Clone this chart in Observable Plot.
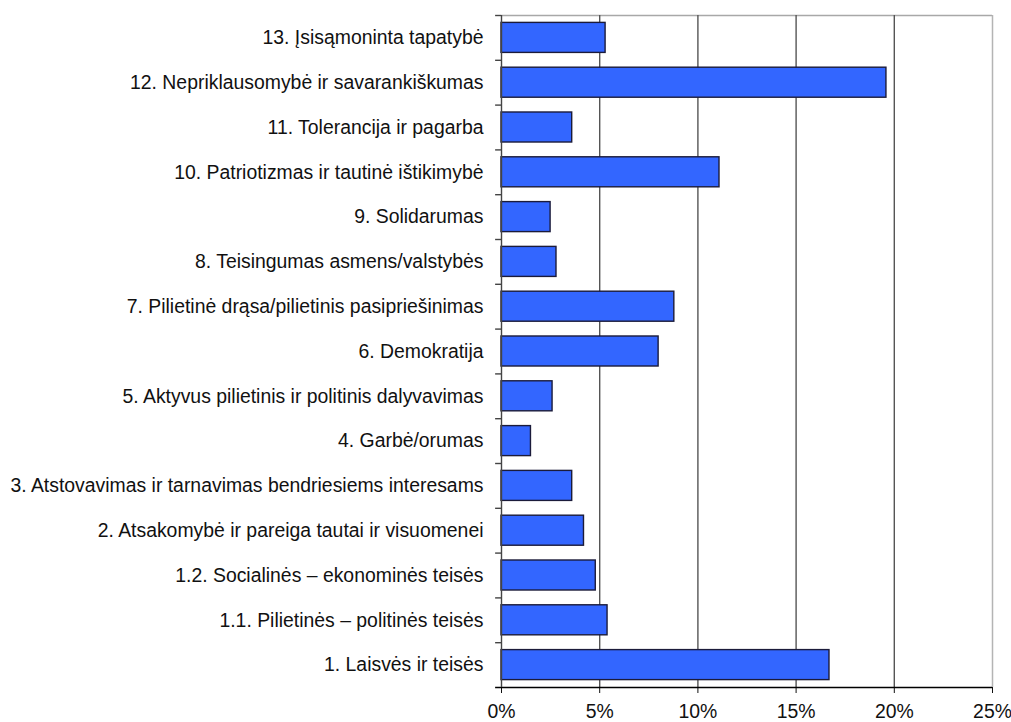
<!DOCTYPE html>
<html><head><meta charset="utf-8">
<script src="https://cdn.jsdelivr.net/npm/d3@7"></script>
<script src="https://cdn.jsdelivr.net/npm/@observablehq/plot@0.6"></script>
<style>body{margin:0;background:#fff}</style>
</head><body><div id="chart"></div>
<script>
const categories = [
  "13. Įsisąmoninta tapatybė",
  "12. Nepriklausomybė ir savarankiškumas",
  "11. Tolerancija ir pagarba",
  "10. Patriotizmas ir tautinė ištikimybė",
  "9. Solidarumas",
  "8. Teisingumas asmens/valstybės",
  "7. Pilietinė drąsa/pilietinis pasipriešinimas",
  "6. Demokratija",
  "5. Aktyvus pilietinis ir politinis dalyvavimas",
  "4. Garbė/orumas",
  "3. Atstovavimas ir tarnavimas bendriesiems interesams",
  "2. Atsakomybė ir pareiga tautai ir visuomenei",
  "1.2. Socialinės – ekonominės teisės",
  "1.1. Pilietinės – politinės teisės",
  "1. Laisvės ir teisės"
];
const values = [5.3, 19.6, 3.6, 11.1, 2.5, 2.8, 8.8, 8.0, 2.6, 1.5, 3.6, 4.2, 4.8, 5.4, 16.7];
const xTicks = [0, 5, 10, 15, 20, 25];
const gridTicks = [5, 10, 15, 20];

const data = categories.map((c, i) => ({category: c, value: values[i]}));
const W = 1011, H = 722, mt = 15, mb = 35, ml = 501, mr = 19;
const step = (H - mt - mb) / categories.length;
const last = categories[categories.length - 1];

const chart = Plot.plot({
  width: W, height: H,
  marginLeft: ml, marginRight: mr, marginTop: mt, marginBottom: mb,
  style: {fontFamily: "'Liberation Sans', Arial, sans-serif", fontSize: "19.4px", color: "#111", background: "#fff"},
  x: {domain: [0, 25], ticks: xTicks, tickFormat: d => d + "%", tickSize: 6, tickPadding: 11, label: null},
  y: {domain: categories, paddingInner: 0.33, paddingOuter: 0.165, round: false, tickSize: 0, tickPadding: 18, label: null},
  marks: [
    Plot.ruleY([categories[0]], {x1: 0, x2: 25, dy: -step / 2, stroke: "#a8a8a8", strokeWidth: 1.5}),
    Plot.ruleX([25], {stroke: "#b4b4b4", strokeWidth: 1.5}),
    Plot.ruleX(gridTicks, {stroke: "#555", strokeWidth: 1.4}),
    Plot.barX(data, {x: "value", y: "category", fill: "#3366ff", stroke: "#1b1b3a", strokeWidth: 1.4}),
    Plot.ruleY(categories, {x1: -0.3, x2: 0, dy: -step / 2, stroke: "#444", strokeWidth: 1.4}),
    Plot.ruleY([last], {x1: -0.3, x2: 25, dy: step / 2, stroke: "#000", strokeWidth: 1.4}),
    Plot.ruleX([0], {stroke: "#444", strokeWidth: 1.4})
  ]
});
document.getElementById("chart").appendChild(chart);
</script>
</body></html>
